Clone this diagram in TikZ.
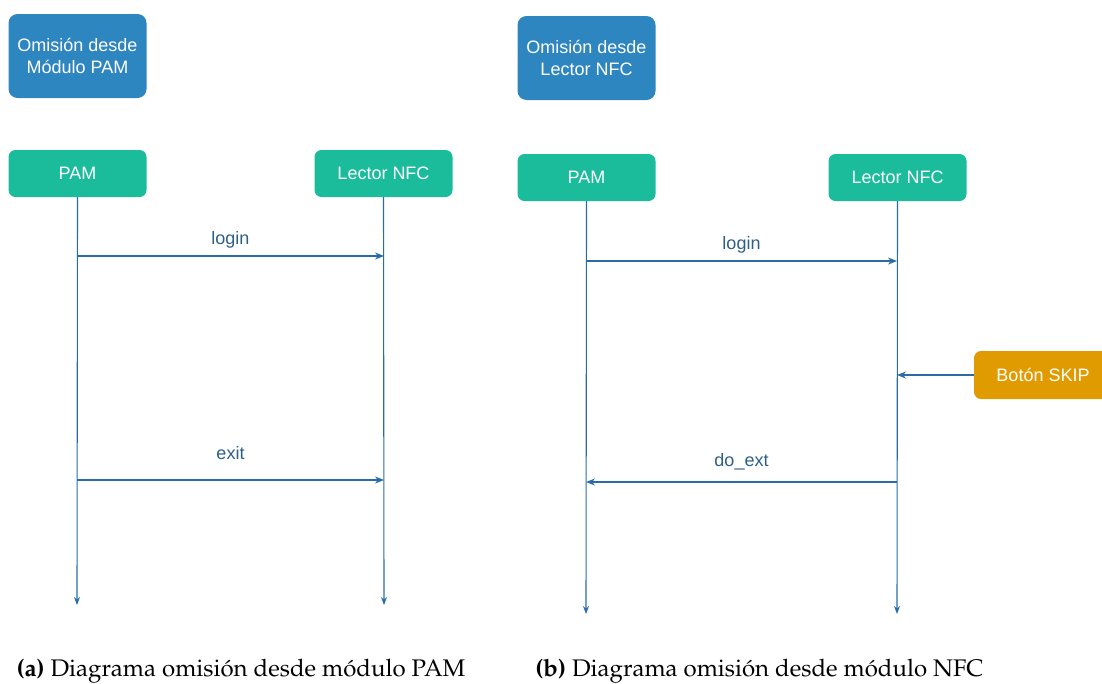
\documentclass[tikz,border=0pt]{standalone}
\usepackage[T1]{fontenc}
\usepackage{fontspec}
\usetikzlibrary{arrows.meta}
\newfontfamily\diagfont{Liberation Sans}
\newcommand{\capfont}{\fontencoding{T1}\fontfamily{ppl}\selectfont}
\definecolor{titleblue}{RGB}{46,134,193}
\definecolor{actorgreen}{RGB}{26,188,156}
\definecolor{skiporange}{RGB}{224,155,0}
\definecolor{lineblue}{RGB}{41,108,168}
\definecolor{labelblue}{RGB}{45,95,135}
\begin{document}
\begin{tikzpicture}[x=1pt,y=-1pt,
	titlebox/.style={fill=titleblue, rounded corners=9pt, text=white, font=\diagfont\fontsize{18}{21.5}\selectfont, align=center, minimum width=138pt, minimum height=84pt, inner sep=0pt},
	actor/.style={fill=actorgreen, rounded corners=7pt, text=white, font=\diagfont\fontsize{18}{21}\selectfont, minimum width=138pt, minimum height=47pt, inner sep=0pt},
	skipbox/.style={fill=skiporange, rounded corners=7pt, text=white, font=\diagfont\fontsize{18}{21}\selectfont, minimum width=138pt, minimum height=48pt, inner sep=0pt},
	lifeline/.style={draw=lineblue, line width=1.1pt, -{Stealth[length=8pt,width=6pt]}},
	msg/.style={draw=lineblue, line width=1.1pt, -{Stealth[length=9pt,width=7pt]}},
	msglabel/.style={text=labelblue, font=\diagfont\fontsize{18}{21}\selectfont, anchor=base, inner sep=0pt},
	caption/.style={font=\capfont\fontsize{24}{28}\selectfont, anchor=base}]
	\clip (0,0) rectangle (1102,683);
	% (a) omision desde modulo PAM
	\node[titlebox] (titleA) at (77.5,56) {Omisión desde\\Módulo PAM};
	\node[actor] (pamA) at (77.5,173.5) {PAM};
	\node[actor] (nfcA) at (383.5,173.5) {Lector NFC};
	\coordinate (pamAend) at (77,605);
	\coordinate (nfcAend) at (384,605);
	\draw[lifeline] (pamA.south) -- (pamAend);
	\draw[lifeline] (nfcA.south) -- (nfcAend);
	\coordinate (loginAfrom) at (77,256);
	\coordinate (loginAto) at (384,256);
	\coordinate (exitAfrom) at (77,480);
	\coordinate (exitAto) at (384,480);
	\draw[msg] (loginAfrom) -- (loginAto) node[msglabel, midway, yshift=12pt] {login};
	\draw[msg] (exitAfrom) -- (exitAto) node[msglabel, midway, yshift=21pt] {exit};
	% (b) omision desde lector NFC
	\node[titlebox] (titleB) at (586.5,58) {Omisión desde\\Lector NFC};
	\node[actor] (pamB) at (586.5,177.5) {PAM};
	\node[actor] (nfcB) at (897.5,177.5) {Lector NFC};
	\node[skipbox] (skip) at (1043,375) {Botón SKIP};
	\coordinate (pamBend) at (586,614);
	\coordinate (nfcBend) at (897,614);
	\draw[lifeline] (pamB.south) -- (pamBend);
	\draw[lifeline] (nfcB.south) -- (nfcBend);
	\coordinate (loginBfrom) at (586,261);
	\coordinate (loginBto) at (897,261);
	\coordinate (skipto) at (897,375);
	\coordinate (extBfrom) at (897,482);
	\coordinate (extBto) at (586,482);
	\draw[msg] (loginBfrom) -- (loginBto) node[msglabel, midway, yshift=12pt] {login};
	\draw[msg] (skip.west) -- (skipto);
	\draw[msg] (extBfrom) -- (extBto) node[msglabel, midway, yshift=16pt] {do\_ext};
	% subcaptions
	\node[caption] (capA) at (241,676) {\textbf{(a)} Diagrama omisión desde módulo PAM};
	\node[caption] (capB) at (759.5,676) {\textbf{(b)} Diagrama omisión desde módulo NFC};
\end{tikzpicture}
\end{document}
